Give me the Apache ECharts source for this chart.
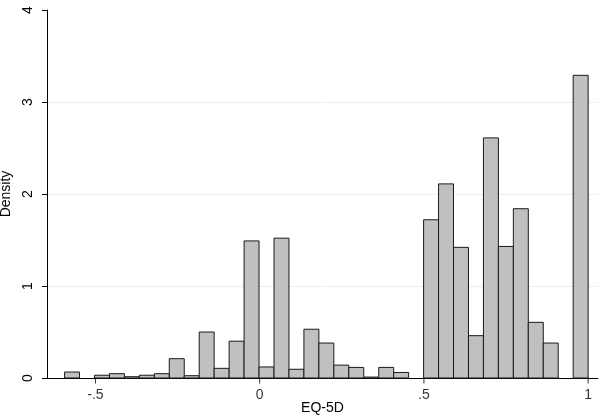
<!DOCTYPE html>
<html>
<head>
<meta charset="utf-8">
<script src="https://cdn.jsdelivr.net/npm/echarts@6/dist/echarts.min.js"></script>
<style>html,body{margin:0;padding:0;background:#fff}#chart{width:600px;height:420px}</style>
</head>
<body>
<div id="chart"></div>
<script>
// histogram of EQ-5D, 35 bins from -0.594 to 1
const binStart = -0.594;
const binEnd = 1;
const density = [0.065, 0, 0.03, 0.047, 0.014, 0.03, 0.047, 0.21, 0.025, 0.50,
  0.105, 0.40, 1.49, 0.12, 1.52, 0.095, 0.53, 0.38, 0.14, 0.115,
  0.01, 0.115, 0.06, 0, 1.72, 2.11, 1.42, 0.46, 2.61, 1.43,
  1.84, 0.605, 0.38, 0, 3.29];
const xTicks = [-0.5, 0, 0.5, 1];
const xTickLabels = ["-.5", "0", ".5", "1"];

const binW = (binEnd - binStart) / density.length;
const bins = density.map((d, i) => [binStart + i * binW, binStart + (i + 1) * binW, d]);

const font = "Liberation Sans, Arial, sans-serif";
const chart = echarts.init(document.getElementById("chart"));
chart.setOption({
  animation: false,
  grid: { left: 47, right: 2, top: 10, bottom: 42, outerBoundsMode: "none", containLabel: false },
  xAxis: {
    type: "value", min: -0.6475, max: 1.03,
    name: "EQ-5D", nameLocation: "middle", nameGap: 23,
    nameTextStyle: { color: "#000", fontSize: 14, fontFamily: font },
    axisLine: { onZero: false, lineStyle: { color: "#000", width: 1 } },
    axisTick: { show: false },
    axisLabel: { show: false },
    splitLine: { show: false }
  },
  yAxis: {
    type: "value", min: 0, max: 4, interval: 1,
    name: "Density", nameLocation: "middle", nameGap: 33, nameRotate: 90,
    nameTextStyle: { color: "#000", fontSize: 14, fontFamily: font },
    axisLine: { show: true, onZero: false, lineStyle: { color: "#000", width: 1 } },
    axisTick: { show: true, length: 5, lineStyle: { color: "#000" } },
    axisLabel: { rotate: 90, margin: 12, color: "#000", fontSize: 14, fontFamily: font },
    splitLine: { show: true, showMinLine: false, showMaxLine: false, lineStyle: { color: "#e8f0f1", width: 1 } }
  },
  series: [
    {
      type: "custom",
      data: bins,
      renderItem: (params, api) => {
        const p0 = api.coord([api.value(0), api.value(2)]);
        const p1 = api.coord([api.value(1), 0]);
        if (api.value(2) <= 0) return null;
        return {
          type: "rect",
          shape: { x: p0[0], y: p0[1], width: p1[0] - p0[0], height: p1[1] - p0[1] },
          style: { fill: "#c0c0c0", stroke: "#1a1a1a", lineWidth: 1 }
        };
      },
      encode: { x: [0, 1], y: 2 },
      z: 2
    },
    {
      // x axis ticks and labels
      type: "scatter",
      data: xTicks.map((v, i) => [v, 0, xTickLabels[i]]),
      symbol: "rect", symbolSize: [1, 5], symbolOffset: [0, 3],
      itemStyle: { color: "#000" },
      label: {
        show: true, position: "bottom", distance: 5,
        formatter: p => p.data[2],
        color: "#000", fontSize: 14, fontFamily: font
      },
      silent: true, clip: false, z: 3
    }
  ]
});
</script>
</body>
</html>
